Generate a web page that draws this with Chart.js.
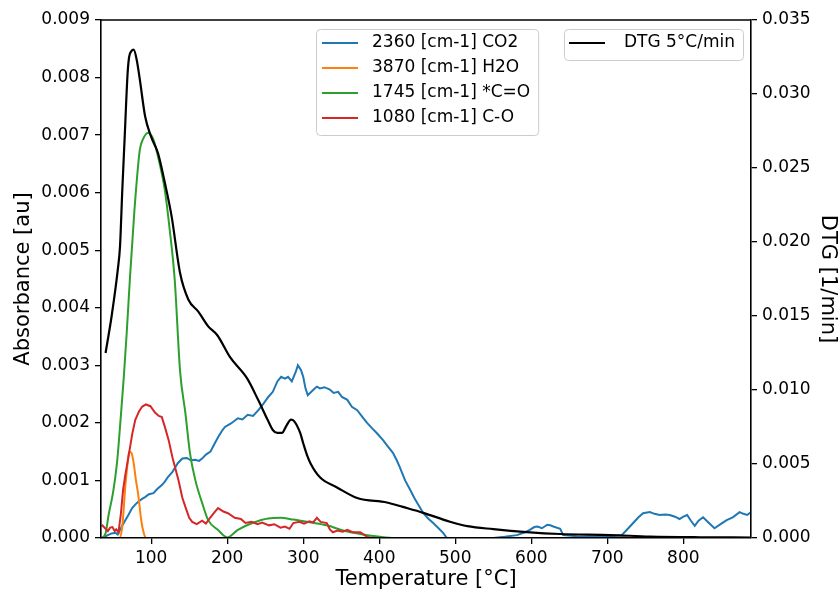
<!DOCTYPE html>
<html>
<head>
<meta charset="utf-8">
<title>FTIR / DTG</title>
<script src="https://cdn.jsdelivr.net/npm/chart.js@4.4.1/dist/chart.umd.min.js"></script>
<style>
  html, body { margin: 0; padding: 0; background: #fff; }
  #wrap { width: 840px; height: 592px; }
</style>
</head>
<body>
<div id="wrap"><canvas id="chart" width="840" height="592"></canvas></div>
<script>
// Evolved gas bands (left axis, absorbance [au]) vs temperature [°C]
const co2Temp = [35, 40, 43, 48, 53, 56, 59, 63, 66, 70, 75, 79, 83, 88, 92, 97, 103, 108, 114, 118, 122, 128, 135, 141, 147, 152, 158, 163, 167, 172, 178, 183, 188, 193, 197, 205, 214, 220, 227, 234, 241, 248, 254, 260, 266, 271, 276, 280, 285, 290, 293, 297, 300, 303, 306, 313, 318, 322, 328, 335, 340, 346, 351, 358, 364, 371, 378, 384, 391, 397, 405, 412, 418, 423, 427, 434, 441, 446, 450, 458, 465, 471, 478, 484, 489, 550, 565, 581, 592, 598, 604, 608, 614, 621, 625, 629, 638, 642, 660, 700, 719, 727, 734, 741, 747, 756, 762, 769, 776, 782, 789, 795, 800, 805, 810, 815, 820, 826, 833, 841, 849, 857, 865, 874, 879, 884, 889];
const co2Abs = [0, 0.00003, 0.00005, 0.00008, 0.00009, 0.00006, 0.00014, 0.00024, 0.00031, 0.0004, 0.00052, 0.00058, 0.00063, 0.00068, 0.00071, 0.00076, 0.00078, 0.00085, 0.00092, 0.00098, 0.00106, 0.00115, 0.0013, 0.00138, 0.00139, 0.00135, 0.00136, 0.00134, 0.00138, 0.00145, 0.0015, 0.00163, 0.00175, 0.00186, 0.00193, 0.00199, 0.00208, 0.00206, 0.00214, 0.00212, 0.00222, 0.00234, 0.00245, 0.00254, 0.00272, 0.0028, 0.00277, 0.0028, 0.00272, 0.00288, 0.003, 0.00292, 0.0028, 0.0026, 0.00248, 0.00257, 0.00263, 0.0026, 0.00262, 0.00258, 0.00252, 0.00254, 0.00245, 0.0024, 0.00228, 0.00222, 0.0021, 0.002, 0.0019, 0.00182, 0.0017, 0.00158, 0.00148, 0.00135, 0.00123, 0.001, 0.00083, 0.0007, 0.00061, 0.00043, 0.00033, 0.00026, 0.00017, 0.00009, 0, 0, 0.00002, 0.00005, 0.0001, 0.00014, 0.00019, 0.0002, 0.00017, 0.00023, 0.00022, 0.0002, 0.00016, 0.00005, 0.00003, 0.00002, 0.00005, 0.00016, 0.00026, 0.00036, 0.00043, 0.00045, 0.00042, 0.0004, 0.00041, 0.0004, 0.00037, 0.00033, 0.00037, 0.0004, 0.0003, 0.00021, 0.0003, 0.00036, 0.00027, 0.00017, 0.00024, 0.00031, 0.00036, 0.00045, 0.00042, 0.0004, 0.00045];

const h2oTemp = [35, 58, 62, 66, 69, 71, 74, 77, 80, 83, 87, 90, 93, 889];
const h2oAbs = [0, 0, 0.0002, 0.0009, 0.0013, 0.0015, 0.00148, 0.0013, 0.001, 0.00075, 0.0003, 0.0001, 0, 0];

const coTemp = [35, 40, 44, 50, 55, 60, 64, 68, 72, 78, 85, 89, 96, 103, 111, 118, 124, 131, 138, 145, 151, 158, 167, 175, 188, 200, 214, 233, 254, 270, 287, 310, 331, 355, 375, 401, 420, 889];
const coAbs = [0, 0.00008, 0.0004, 0.0008, 0.0013, 0.0021, 0.0028, 0.0036, 0.0045, 0.0057, 0.00674, 0.00692, 0.00704, 0.00692, 0.00651, 0.00604, 0.0054, 0.00448, 0.0029, 0.00217, 0.00148, 0.00101, 0.00061, 0.00031, 0.00014, 0.00001, 0.00014, 0.00026, 0.00034, 0.00035, 0.00032, 0.00027, 0.00022, 0.00012, 0.00007, 0.00002, 0, 0];

const c_oTemp = [35, 40, 43, 46, 49, 52, 54, 57, 60, 63, 66, 70, 75, 79, 84, 88, 93, 99, 105, 110, 114, 118, 123, 128, 136, 141, 145, 150, 154, 160, 167, 172, 178, 184, 188, 195, 201, 210, 218, 224, 232, 240, 246, 255, 262, 270, 276, 282, 287, 295, 301, 308, 313, 318, 323, 331, 335, 339, 345, 352, 358, 365, 375, 384, 390, 889];
const c_oAbs = [0.00023, 0.00016, 0.00012, 0.00018, 0.00019, 0.00012, 0.00015, 0.0001, 0.0004, 0.00083, 0.0011, 0.0014, 0.0018, 0.00205, 0.0022, 0.00228, 0.00232, 0.00229, 0.00218, 0.00212, 0.0021, 0.00193, 0.0017, 0.0014, 0.001, 0.0007, 0.00054, 0.00035, 0.00028, 0.00024, 0.0003, 0.00025, 0.00036, 0.00046, 0.00052, 0.00046, 0.00043, 0.00035, 0.00033, 0.00026, 0.00028, 0.00024, 0.00027, 0.00022, 0.00024, 0.00018, 0.0002, 0.00016, 0.00026, 0.00028, 0.00025, 0.00029, 0.00027, 0.00035, 0.00028, 0.00026, 0.00015, 0.0001, 0.00013, 0.00011, 0.00014, 0.0001, 0.0001, 0.00002, 0, 0];

// Mass loss rate (right axis, 1/min), 5 °C/min ramp
const dtgTemp = [40, 48, 56, 59, 62, 65, 69, 71, 74, 77, 81, 85, 92, 100, 109, 118, 127, 138, 149, 162, 175, 187, 204, 226, 241, 253, 260, 266, 272, 278, 284, 288, 296, 300, 305, 310, 322, 345, 371, 410, 431, 458, 493, 516, 550, 594, 638, 704, 756, 822, 889];
const dtgRate = [0.0125, 0.015, 0.0181, 0.0197, 0.0235, 0.0269, 0.0314, 0.0325, 0.0329, 0.033, 0.0323, 0.031, 0.0285, 0.0271, 0.026, 0.024, 0.0217, 0.0179, 0.0161, 0.0153, 0.0143, 0.0137, 0.0122, 0.0108, 0.0093, 0.008, 0.0073, 0.0071, 0.0071, 0.0076, 0.008, 0.0079, 0.0071, 0.0064, 0.0056, 0.005, 0.0041, 0.0034, 0.0027, 0.0024, 0.0021, 0.0017, 0.0011, 0.0008, 0.0006, 0.0004, 0.00027, 0.0002, 0.0001, 0.00005, 0.00003];

const tempTicks = [100, 200, 300, 400, 500, 600, 700, 800];
const absTicks = [0, 0.001, 0.002, 0.003, 0.004, 0.005, 0.006, 0.007, 0.008, 0.009];
const dtgTicks = [0, 0.005, 0.01, 0.015, 0.02, 0.025, 0.03, 0.035];

const toPoints = (xs, ys) => xs.map((x, i) => ({ x: x, y: ys[i] }));

Chart.defaults.font.family = "'DejaVu Sans', sans-serif";
Chart.defaults.color = '#000';

// top spine + the two legend boxes
const framePlugin = {
  id: 'frame',
  afterDatasetsDraw(chart) {
    const { ctx, chartArea: a } = chart;
    ctx.save();
    ctx.strokeStyle = '#000';
    ctx.lineWidth = 1.6;
    ctx.beginPath();
    ctx.moveTo(a.left, a.top);
    ctx.lineTo(a.right, a.top);
    ctx.stroke();

    ctx.font = "17px 'DejaVu Sans'";
    ctx.textBaseline = 'middle';
    const ds = chart.data.datasets;

    const drawBox = (x, y, w, h) => {
      ctx.beginPath();
      ctx.roundRect(x + 0.5, y + 0.5, w, h, 4);
      ctx.fillStyle = 'rgba(255,255,255,0.8)';
      ctx.fill();
      ctx.strokeStyle = '#cccccc';
      ctx.lineWidth = 1;
      ctx.stroke();
    };
    const drawEntry = (d, x, y, gap) => {
      ctx.strokeStyle = d.borderColor;
      ctx.lineWidth = d.borderWidth || 2;
      ctx.beginPath();
      ctx.moveTo(x, y);
      ctx.lineTo(x + 36, y);
      ctx.stroke();
      ctx.fillStyle = '#000';
      ctx.fillText(d.label, x + 36 + gap, y);
    };

    // absorbance bands
    const left = ds.filter(d => d.yAxisID === 'y');
    const w1 = Math.max(...left.map(d => ctx.measureText(d.label).width));
    const bx = a.left + 215, by = a.top + 9;
    drawBox(bx, by, 6 + 36 + 14 + w1 + 8, 106);
    left.forEach((d, i) => drawEntry(d, bx + 6, by + 14 + i * 25, 14));

    // DTG
    const dtg = ds.find(d => d.yAxisID === 'y2');
    const w2 = ctx.measureText(dtg.label).width;
    const bw2 = 5 + 36 + 19 + w2 + 8;
    const bx2 = a.right - 8 - bw2;
    drawBox(bx2, by, bw2, 31);
    drawEntry(dtg, bx2 + 5, by + 14, 19);
    ctx.restore();
  }
};

const axisCommon = {
  grid: { drawOnChartArea: false, tickLength: 6, color: '#000', lineWidth: 1.3 },
  border: { color: '#000', width: 1.6, z: 1 }
};

new Chart(document.getElementById('chart'), {
  type: 'line',
  data: {
    datasets: [
      { label: '2360 [cm-1] CO2', data: toPoints(co2Temp, co2Abs), borderColor: '#1f77b4', yAxisID: 'y', order: 5 },
      { label: '3870 [cm-1] H2O', data: toPoints(h2oTemp, h2oAbs), borderColor: '#ff7f0e', yAxisID: 'y', order: 4, cubicInterpolationMode: 'monotone' },
      { label: '1745 [cm-1] *C=O', data: toPoints(coTemp, coAbs), borderColor: '#2ca02c', yAxisID: 'y', order: 3, cubicInterpolationMode: 'monotone' },
      { label: '1080 [cm-1] C-O', data: toPoints(c_oTemp, c_oAbs), borderColor: '#d62728', yAxisID: 'y', order: 2 },
      { label: 'DTG 5°C/min', data: toPoints(dtgTemp, dtgRate), borderColor: '#000000', borderWidth: 2.2, yAxisID: 'y2', order: 1, cubicInterpolationMode: 'monotone' }
    ]
  },
  options: {
    responsive: false,
    animation: false,
    devicePixelRatio: 1,
    elements: { point: { radius: 0 }, line: { borderWidth: 2, tension: 0 } },
    layout: { padding: { top: 20, left: 0, right: 0, bottom: 0 } },
    plugins: { legend: { display: false }, tooltip: { enabled: false } },
    scales: {
      x: {
        type: 'linear', min: 34, max: 889,
        ...axisCommon,
        afterBuildTicks: s => { s.ticks = tempTicks.map(v => ({ value: v })); },
        afterFit: s => { s.height = 54; },
        ticks: { padding: 4, font: { size: 17 }, callback: v => String(v) },
        title: { display: true, text: 'Temperature [°C]', font: { size: 21 }, padding: { top: 0, bottom: 0 } }
      },
      y: {
        position: 'left', min: 0, max: 0.009,
        ...axisCommon,
        afterBuildTicks: s => { s.ticks = absTicks.map(v => ({ value: v })); },
        afterFit: s => { s.width = 101; },
        ticks: { padding: 5, font: { size: 17 }, callback: v => v.toFixed(3) },
        title: { display: true, text: 'Absorbance [au]', font: { size: 21 }, padding: { top: 11, bottom: 0 } }
      },
      y2: {
        position: 'right', min: 0, max: 0.035,
        ...axisCommon,
        afterBuildTicks: s => { s.ticks = dtgTicks.map(v => ({ value: v })); },
        afterFit: s => { s.width = 89; },
        ticks: { padding: 5, font: { size: 17 }, callback: v => v.toFixed(3) },
        title: { display: true, text: 'DTG [1/min]', font: { size: 21 }, padding: { top: 0, bottom: 0 } }
      }
    }
  },
  plugins: [framePlugin]
});
</script>
</body>
</html>
